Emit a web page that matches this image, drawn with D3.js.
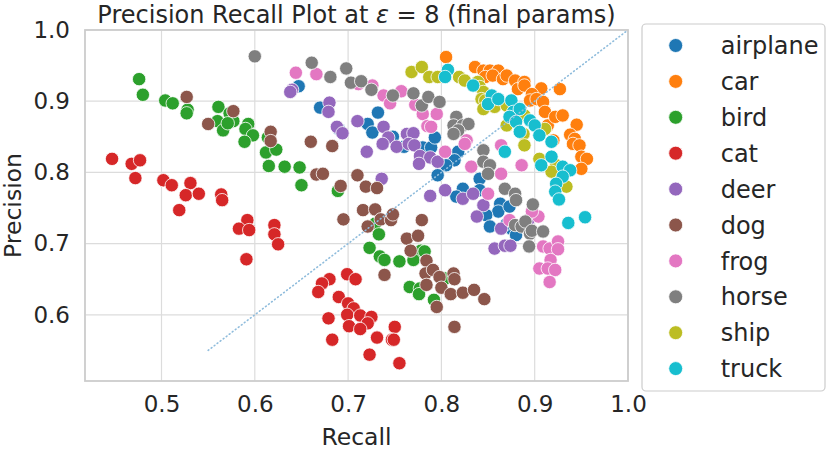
<!DOCTYPE html>
<html>
<head>
<meta charset="utf-8">
<script src="https://cdn.jsdelivr.net/npm/d3@7"></script>
<style>
  body { margin: 0; background: #fff; }
  text { font-family: "DejaVu Sans", sans-serif; fill: #262626; }
</style>
</head>
<body>
<svg id="canvas" width="830" height="451"></svg>
<script>
// class names and colours (tab10)
let categories = ['airplane','car','bird','cat','deer','dog','frog','horse','ship','truck']
let colors = ['#1f77b4','#ff7f0e','#2ca02c','#d62728','#9467bd','#8c564b','#e377c2','#7f7f7f','#bcbd22','#17becf']

// [recall, precision] per class
let airplane = [[0.647,0.921],[0.670,0.891],[0.732,0.884],[0.721,0.868],[0.726,0.856],[0.690,0.861],[0.748,0.850],[0.760,0.836],[0.780,0.835],[0.789,0.835],[0.793,0.849],[0.818,0.829],[0.814,0.817],[0.805,0.810],[0.796,0.796],[0.841,0.791],[0.823,0.777],[0.841,0.775],[0.816,0.766],[0.863,0.756],[0.861,0.745],[0.873,0.752],[0.848,0.740],[0.852,0.724],[0.875,0.721],[0.870,0.728],[0.880,0.712]]
let car = [[0.805,0.962],[0.836,0.948],[0.845,0.943],[0.852,0.943],[0.861,0.943],[0.847,0.934],[0.855,0.936],[0.866,0.931],[0.870,0.936],[0.879,0.929],[0.882,0.917],[0.889,0.927],[0.927,0.917],[0.907,0.918],[0.889,0.922],[0.897,0.910],[0.895,0.901],[0.902,0.903],[0.909,0.899],[0.911,0.885],[0.914,0.866],[0.922,0.878],[0.930,0.880],[0.945,0.867],[0.938,0.853],[0.943,0.847],[0.920,0.845],[0.941,0.840],[0.948,0.838],[0.950,0.822],[0.956,0.819],[0.950,0.805]]
let bird = [[0.476,0.931],[0.480,0.909],[0.504,0.901],[0.512,0.897],[0.528,0.888],[0.527,0.883],[0.561,0.892],[0.573,0.883],[0.560,0.872],[0.566,0.859],[0.577,0.872],[0.571,0.869],[0.593,0.868],[0.590,0.861],[0.598,0.852],[0.589,0.843],[0.614,0.849],[0.612,0.828],[0.623,0.832],[0.615,0.809],[0.632,0.808],[0.648,0.807],[0.650,0.782],[0.689,0.774],[0.729,0.728],[0.733,0.713],[0.723,0.694],[0.734,0.682],[0.739,0.677],[0.755,0.675],[0.778,0.690],[0.770,0.677],[0.782,0.689],[0.804,0.651],[0.766,0.639],[0.777,0.637],[0.776,0.629],[0.792,0.621]]
let cat = [[0.447,0.819],[0.468,0.812],[0.477,0.817],[0.472,0.792],[0.502,0.789],[0.511,0.782],[0.531,0.785],[0.526,0.768],[0.540,0.770],[0.564,0.769],[0.565,0.761],[0.519,0.747],[0.592,0.733],[0.583,0.721],[0.594,0.719],[0.591,0.678],[0.621,0.726],[0.621,0.713],[0.625,0.699],[0.699,0.657],[0.708,0.650],[0.680,0.650],[0.672,0.644],[0.668,0.632],[0.690,0.625],[0.700,0.616],[0.706,0.609],[0.699,0.600],[0.713,0.599],[0.725,0.597],[0.721,0.588],[0.701,0.584],[0.713,0.580],[0.679,0.595],[0.750,0.583],[0.731,0.568],[0.747,0.565],[0.749,0.565],[0.683,0.565],[0.723,0.544],[0.755,0.532]]
let deer = [[0.640,0.916],[0.638,0.913],[0.680,0.898],[0.679,0.885],[0.710,0.872],[0.688,0.864],[0.694,0.855],[0.738,0.864],[0.743,0.849],[0.737,0.840],[0.752,0.836],[0.763,0.854],[0.770,0.855],[0.765,0.840],[0.771,0.838],[0.720,0.829],[0.777,0.823],[0.788,0.821],[0.776,0.812],[0.796,0.815],[0.788,0.767],[0.736,0.791],[0.804,0.775],[0.823,0.763],[0.834,0.770],[0.845,0.754],[0.838,0.738],[0.864,0.721],[0.893,0.733],[0.857,0.693],[0.868,0.697],[0.874,0.697]]
let dog = [[0.527,0.906],[0.550,0.868],[0.577,0.886],[0.617,0.857],[0.617,0.844],[0.660,0.843],[0.683,0.837],[0.666,0.797],[0.673,0.798],[0.692,0.781],[0.710,0.796],[0.719,0.780],[0.731,0.778],[0.716,0.747],[0.729,0.748],[0.695,0.734],[0.721,0.724],[0.735,0.734],[0.746,0.733],[0.748,0.741],[0.779,0.733],[0.763,0.707],[0.775,0.711],[0.767,0.690],[0.784,0.676],[0.783,0.658],[0.791,0.663],[0.739,0.656],[0.784,0.642],[0.795,0.611],[0.798,0.653],[0.813,0.658],[0.814,0.650],[0.800,0.638],[0.810,0.629],[0.823,0.631],[0.835,0.635],[0.846,0.622],[0.814,0.583]]
let frog = [[0.644,0.940],[0.666,0.938],[0.711,0.924],[0.726,0.922],[0.738,0.908],[0.757,0.914],[0.745,0.897],[0.772,0.895],[0.780,0.882],[0.795,0.882],[0.785,0.865],[0.789,0.864],[0.827,0.845],[0.804,0.829],[0.825,0.840],[0.832,0.808],[0.864,0.838],[0.864,0.798],[0.886,0.810],[0.850,0.770],[0.873,0.733],[0.904,0.738],[0.897,0.745],[0.909,0.696],[0.916,0.693],[0.925,0.703],[0.925,0.692],[0.917,0.677],[0.905,0.665],[0.914,0.665],[0.922,0.663],[0.916,0.646]]
let horse = [[0.600,0.963],[0.661,0.954],[0.681,0.934],[0.698,0.946],[0.703,0.926],[0.714,0.928],[0.725,0.916],[0.748,0.908],[0.770,0.911],[0.779,0.894],[0.786,0.906],[0.798,0.899],[0.816,0.878],[0.813,0.866],[0.823,0.866],[0.829,0.868],[0.818,0.859],[0.813,0.854],[0.845,0.831],[0.845,0.815],[0.852,0.810],[0.850,0.798],[0.868,0.777],[0.879,0.770],[0.880,0.761],[0.879,0.726],[0.886,0.724],[0.895,0.714],[0.898,0.755],[0.890,0.731],[0.897,0.718],[0.909,0.717],[0.894,0.696]]
let ship = [[0.768,0.941],[0.779,0.948],[0.787,0.934],[0.796,0.934],[0.819,0.934],[0.825,0.929],[0.839,0.927],[0.841,0.920],[0.845,0.913],[0.843,0.903],[0.847,0.901],[0.845,0.889],[0.857,0.892],[0.870,0.894],[0.879,0.880],[0.870,0.866],[0.889,0.880],[0.888,0.854],[0.911,0.861],[0.889,0.838],[0.905,0.819],[0.923,0.810],[0.918,0.801],[0.934,0.780]]
let truck = [[0.807,0.944],[0.804,0.934],[0.834,0.922],[0.854,0.908],[0.850,0.896],[0.861,0.903],[0.875,0.901],[0.877,0.885],[0.884,0.889],[0.873,0.878],[0.880,0.871],[0.884,0.857],[0.895,0.873],[0.900,0.866],[0.905,0.852],[0.918,0.843],[0.868,0.829],[0.918,0.822],[0.907,0.810],[0.930,0.808],[0.938,0.803],[0.930,0.794],[0.923,0.784],[0.922,0.773],[0.926,0.762],[0.936,0.729],[0.954,0.737]]

let xTicks = [0.5,0.6,0.7,0.8,0.9,1.0]
let yTicks = [0.6,0.7,0.8,0.9,1.0]
let xDomain = [0.418,1.0]
let yDomain = [0.507,1.0]
let diagonal = [[0.55,0.55],[1.0,1.0]]

let series = [airplane,car,bird,cat,deer,dog,frog,horse,ship,truck]

let svg = d3.select('#canvas')
let plotLeft = 85, plotRight = 628, plotTop = 30, plotBottom = 381

let x = d3.scaleLinear().domain(xDomain).range([plotLeft,plotRight])
let y = d3.scaleLinear().domain(yDomain).range([plotBottom,plotTop])

// grid
svg.append('g').selectAll('line')
  .data(xTicks).enter().append('line')
  .attr('x1',d=>x(d)).attr('x2',d=>x(d))
  .attr('y1',plotTop).attr('y2',plotBottom)
  .attr('stroke','#dcdcdc').attr('stroke-width',1.2)
svg.append('g').selectAll('line')
  .data(yTicks).enter().append('line')
  .attr('x1',plotLeft).attr('x2',plotRight)
  .attr('y1',d=>y(d)).attr('y2',d=>y(d))
  .attr('stroke','#dcdcdc').attr('stroke-width',1.2)

// axes (labels only)
let xAxis = svg.append('g').attr('transform','translate(0,'+plotBottom+')')
  .call(d3.axisBottom(x).tickValues(xTicks).tickSize(0).tickPadding(15).tickFormat(d3.format('.1f')))
let yAxis = svg.append('g').attr('transform','translate('+plotLeft+',0)')
  .call(d3.axisLeft(y).tickValues(yTicks).tickSize(0).tickPadding(15).tickFormat(d3.format('.1f')))
xAxis.select('.domain').remove()
yAxis.select('.domain').remove()
svg.selectAll('.tick text').style('font-size','23px').attr('fill','#262626')
  .style('font-family','"DejaVu Sans", sans-serif')

// points
let groups = svg.append('g').selectAll('g')
  .data(series).enter().append('g')
  .attr('fill',(d,i)=>colors[i])
groups.selectAll('circle')
  .data(d=>d).enter().append('circle')
  .attr('cx',d=>x(d[0])).attr('cy',d=>y(d[1]))
  .attr('r',6.7)
  .attr('stroke','#fff').attr('stroke-width',0.8)

// dotted diagonal
svg.append('path')
  .attr('d',d3.line().x(d=>x(d[0])).y(d=>y(d[1]))(diagonal))
  .attr('fill','none').attr('stroke','#8fbcdc')
  .attr('stroke-width',1.6).attr('stroke-dasharray','0.8,3')
  .attr('stroke-linecap','round')

// frame
svg.append('rect')
  .attr('x',plotLeft).attr('y',plotTop).attr('width',plotRight-plotLeft).attr('height',plotBottom-plotTop)
  .attr('fill','none').attr('stroke','#cccccc').attr('stroke-width',1.8)

// title and labels
let title = svg.append('text').attr('x',(plotLeft+plotRight)/2).attr('y',22.5)
  .attr('text-anchor','middle').style('font-size','24px')
title.append('tspan').text('Precision Recall Plot at ')
title.append('tspan').style('font-style','italic').text('ε')
title.append('tspan').text(' = 8 (final params)')

svg.append('text').attr('x',(plotLeft+plotRight)/2).attr('y',445)
  .attr('text-anchor','middle').style('font-size','23.5px').text('Recall')
svg.append('text').attr('transform','translate(21,'+((plotTop+plotBottom)/2)+') rotate(-90)')
  .attr('text-anchor','middle').style('font-size','23.5px').text('Precision')

// legend
let legend = svg.append('g')
legend.append('rect').attr('x',642).attr('y',24).attr('width',183).attr('height',367)
  .attr('rx',4).attr('fill','#fff').attr('stroke','#cccccc').attr('stroke-width',1.2)
let rows = legend.selectAll('g.row')
  .data(categories).enter().append('g').attr('class','row')
  .attr('transform',(d,i)=>'translate(0,'+(45.5+i*35.9)+')')
rows.append('circle').attr('cx',675.7).attr('cy',0).attr('r',7)
  .attr('fill',(d,i)=>colors[i]).attr('stroke','#fff').attr('stroke-width',0.8)
rows.append('text').attr('x',720.7).attr('y',0).attr('dy','0.36em')
  .style('font-size','24px').text(d=>d)
</script>
</body>
</html>
